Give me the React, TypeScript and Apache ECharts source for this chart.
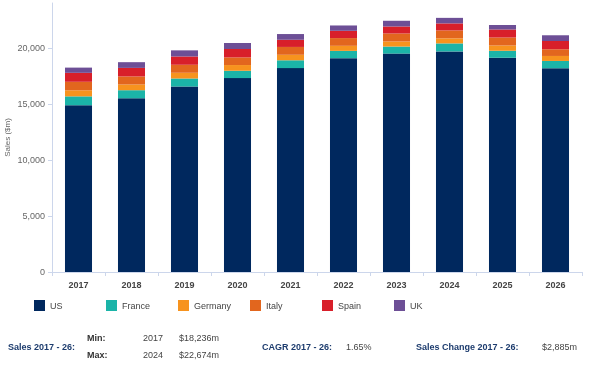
import React, { useEffect, useRef } from "react";
import * as echarts from "echarts";

const years = ["2017", "2018", "2019", "2020", "2021", "2022", "2023", "2024", "2025", "2026"];
const us = [14880, 15500, 16550, 17300, 18190, 19080, 19490, 19680, 19110, 18180];
const france = [790, 720, 715, 655, 700, 650, 625, 715, 625, 650];
const germany = [540, 510, 510, 510, 490, 450, 450, 450, 475, 445];
const italy = [760, 720, 715, 680, 700, 690, 715, 710, 715, 597];
const spain = [800, 760, 740, 750, 640, 650, 625, 625, 715, 740];
const uk = [466, 510, 545, 535, 510, 475, 510, 494, 395, 509];

const seriesNames = ["US", "France", "Germany", "Italy", "Spain", "UK"];
const seriesColors = ["#00285e", "#1bb4a8", "#f7931e", "#e2661e", "#d81f2a", "#6d4f96"];
const seriesData = [us, france, germany, italy, spain, uk];

const yTicks = [0, 5000, 10000, 15000, 20000];

const salesLabel = "Sales 2017 - 26:";
const minRow = ["Min:", "2017", "$18,236m"];
const maxRow = ["Max:", "2024", "$22,674m"];
const cagrLabel = "CAGR 2017 - 26:";
const cagrValue = "1.65%";
const changeLabel = "Sales Change 2017 - 26:";
const changeValue = "$2,885m";

const FONT = "'Liberation Sans', Arial, sans-serif";
const NAVY = "#1d3c6e";

export default function App() {
  const ref = useRef<HTMLDivElement>(null);
  useEffect(() => {
    if (!ref.current) return;
    const chart = echarts.init(ref.current, null, { renderer: "svg" });
    const txt = (text: string, x: number, y: number, bold: boolean, fill: string) => ({
      type: "text",
      x,
      y,
      style: {
        text,
        fill,
        font: `${bold ? "bold " : ""}9px ${FONT}`,
        textVerticalAlign: "middle",
      },
    });
    chart.setOption({
      animation: false,
      textStyle: { fontFamily: FONT },
      grid: { left: 52, right: 18, top: 3, bottom: 94, containLabel: false, outerBoundsMode: "none" },
      xAxis: {
        type: "category",
        data: years,
        axisLine: { lineStyle: { color: "#ccd6eb" } },
        axisTick: { show: true, length: 4, lineStyle: { color: "#ccd6eb" } },
        axisLabel: { fontSize: 9, fontWeight: "bold", color: "#444", margin: 8 },
      },
      yAxis: {
        type: "value",
        min: yTicks[0],
        max: 24000,
        interval: 5000,
        name: "Sales ($m)",
        nameLocation: "middle",
        nameGap: 41,
        nameMoveOverlap: false,
        nameTextStyle: { fontSize: 8, color: "#666" },
        axisLine: { show: true, lineStyle: { color: "#ccd6eb" } },
        axisTick: { show: true, length: 4, lineStyle: { color: "#ccd6eb" } },
        splitLine: { show: false },
        axisLabel: {
          fontSize: 9,
          color: "#666",
          margin: 7,
          showMaxLabel: false,
          formatter: (v: number) => (yTicks.includes(v) ? v.toLocaleString("en-US") : ""),
        },
      },
      legend: seriesNames.map((n, i) => ({
        data: [n],
        left: 34 + 72 * i,
        top: 300,
        padding: 0,
        icon: "rect",
        itemWidth: 11,
        itemHeight: 11,
        selectedMode: false,
        textStyle: { fontSize: 9, color: "#444" },
      })),
      series: seriesNames.map((n, i) => ({
        name: n,
        type: "bar",
        stack: "total",
        barWidth: "51%",
        data: seriesData[i],
        itemStyle: { color: seriesColors[i] },
      })),
      graphic: [
        txt(salesLabel, 8, 346.5, true, NAVY),
        txt(minRow[0], 87, 338, true, "#333"),
        txt(minRow[1], 143, 338, false, "#444"),
        txt(minRow[2], 179, 338, false, "#444"),
        txt(maxRow[0], 87, 355, true, "#333"),
        txt(maxRow[1], 143, 355, false, "#444"),
        txt(maxRow[2], 179, 355, false, "#444"),
        txt(cagrLabel, 262, 346.5, true, NAVY),
        txt(cagrValue, 346, 346.5, false, "#444"),
        txt(changeLabel, 416, 346.5, true, NAVY),
        txt(changeValue, 542, 346.5, false, "#444"),
      ],
    });
    return () => chart.dispose();
  }, []);
  return <div ref={ref} style={{ position: "fixed", left: 0, top: 0, width: 600, height: 366 }} />;
}
